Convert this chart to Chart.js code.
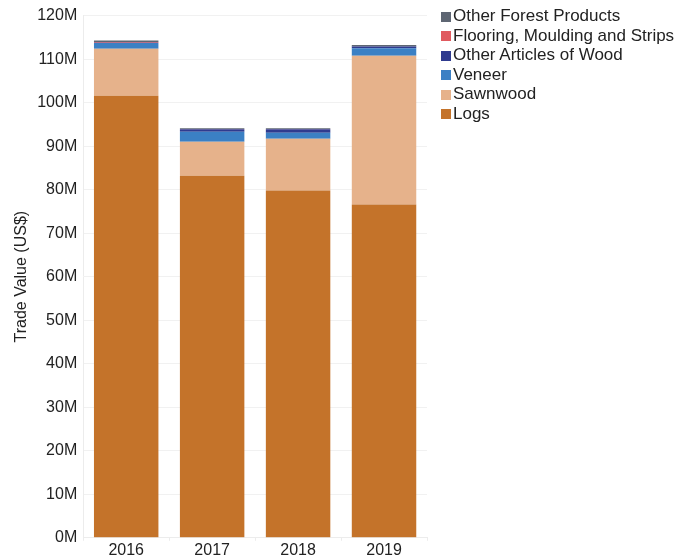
<!DOCTYPE html>
<html>
<head>
<meta charset="utf-8">
<script src="https://cdn.jsdelivr.net/npm/chart.js@4"></script>
<style>
  html, body { margin: 0; padding: 0; background: #fff; }
  #wrap { position: relative; width: 690px; height: 560px; }
  #legend { position: absolute; left: 441px; top: 6px; margin: 0; padding: 0; list-style: none;
            font: 17px Arial, "Liberation Sans", sans-serif; color: #222; }
  #legend li { height: 19.5px; line-height: 19.5px; white-space: nowrap; }
  #legend span { display: inline-block; width: 10px; height: 10px; margin-right: 2px; vertical-align: -0.5px; }
</style>
</head>
<body>
<div id="wrap">
  <canvas id="tradeChart" width="690" height="560"></canvas>
  <ul id="legend"></ul>
</div>
<script>
// values in millions of US$
const years = ['2016', '2017', '2018', '2019'];
const logs = [101.6, 83.2, 79.8, 76.6];
const sawnwood = [10.8, 7.8, 11.9, 34.2];
const veneer = [1.3, 2.3, 1.4, 1.7];
const otherArticles = [0.05, 0.6, 0.8, 0.4];
const flooring = [0.2, 0.02, 0.02, 0.02];
const otherForest = [0.3, 0.2, 0.2, 0.3];
const yTicks = [0, 10, 20, 30, 40, 50, 60, 70, 80, 90, 100, 110, 120];

const font = { family: 'Arial, "Liberation Sans", sans-serif', size: 16 };

function series(label, data, color) {
    return {
        label: label,
        data: data.map(v => v * 1e6),
        backgroundColor: color,
        borderWidth: 0,
        categoryPercentage: 0.75,
        barPercentage: 1.0
    };
}

const chart = new Chart(document.getElementById('tradeChart'), {
    type: 'bar',
    data: {
        labels: years,
        datasets: [
            series('Logs', logs, '#c4732a'),
            series('Sawnwood', sawnwood, '#e6b28b'),
            series('Veneer', veneer, '#3b80c4'),
            series('Other Articles of Wood', otherArticles, '#2f3b8f'),
            series('Flooring, Moulding and Strips', flooring, '#e05a5f'),
            series('Other Forest Products', otherForest, '#5e6673')
        ]
    },
    options: {
        responsive: false,
        animation: false,
        layout: { padding: { top: 12, right: 263, left: 8, bottom: 0 } },
        plugins: {
            tooltip: { enabled: false },
            legend: { display: false }
        },
        scales: {
            x: {
                stacked: true,
                grid: { display: true, drawOnChartArea: false, color: '#ececec', tickLength: 3 },
                border: { color: '#ececec' },
                ticks: { font: font, color: '#222', padding: 0 }
            },
            y: {
                stacked: true,
                min: 0,
                max: 120e6,
                afterBuildTicks: axis => { axis.ticks = yTicks.map(v => ({ value: v * 1e6 })); },
                grid: { color: '#f1f1f1', drawTicks: false },
                border: { color: '#ececec' },
                ticks: {
                    font: font,
                    color: '#222',
                    padding: 6,
                    callback: v => (v / 1e6) + 'M'
                },
                title: { display: true, text: 'Trade Value (US$)', font: font, color: '#222', padding: { top: 4, bottom: 0 } }
            }
        }
    }
});

// legend, top item is the top of the stack
const legend = document.getElementById('legend');
chart.data.datasets.slice().reverse().forEach(ds => {
    const li = document.createElement('li');
    const sw = document.createElement('span');
    sw.style.background = ds.backgroundColor;
    li.appendChild(sw);
    li.appendChild(document.createTextNode(ds.label));
    legend.appendChild(li);
});
</script>
</body>
</html>
